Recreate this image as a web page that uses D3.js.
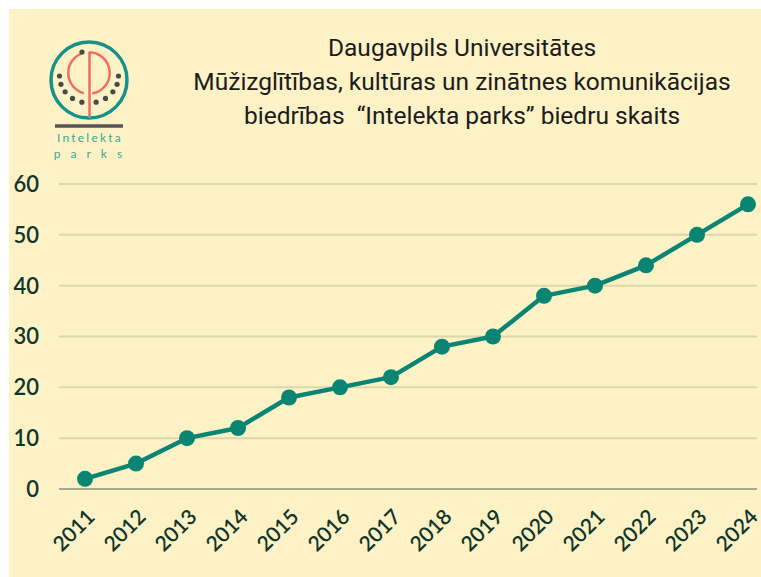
<!DOCTYPE html>
<html>
<head>
<meta charset="utf-8">
<script src="https://cdn.jsdelivr.net/npm/d3@7"></script>
<style>
  body { margin: 0; background: #fff; }
  svg { display: block; }
</style>
</head>
<body>
<svg width="761" height="577"></svg>
<script>
// Data
const years = ["2011", "2012", "2013", "2014", "2015", "2016", "2017", "2018", "2019", "2020", "2021", "2022", "2023", "2024"];
const members = [2, 5, 10, 12, 18, 20, 22, 28, 30, 38, 40, 44, 50, 56];
const yTicks = [0, 10, 20, 30, 40, 50, 60];
const titleLines = [
    "Daugavpils Universitātes",
    "Mūžizglītības, kultūras un zinātnes komunikācijas",
    "biedrības  “Intelekta parks” biedru skaits"
];

const svg = d3.select("svg"),
      width = +svg.attr("width"),
      height = +svg.attr("height");

const lineColor = "#0a8574",
      labelColor = "#10352b";

// background panel
svg.append("rect")
    .attr("x", 9).attr("y", 9)
    .attr("width", width - 9).attr("height", height - 9)
    .attr("fill", "#fdf2c5");

// scales
const x = d3.scalePoint()
    .domain(years)
    .range([85, 748]);

const y = d3.scaleLinear()
    .domain([0, 60])
    .range([489, 184]);

// gridlines
svg.append("g")
    .selectAll("line")
    .data(yTicks)
    .join("line")
    .attr("x1", 59).attr("x2", 757)
    .attr("y1", d => y(d)).attr("y2", d => y(d))
    .attr("stroke", d => d === 0 ? "#a8a98c" : "#dcd6ac")
    .attr("stroke-width", 2);

// y labels
svg.append("g")
    .selectAll("text")
    .data(yTicks)
    .join("text")
    .attr("x", 39)
    .attr("y", d => y(d))
    .attr("dy", "0.36em")
    .attr("text-anchor", "end")
    .attr("font-family", "Lato, sans-serif")
    .attr("font-size", 22)
    .attr("font-weight", 600)
    .attr("fill", labelColor)
    .text(d => d);

// x labels
svg.append("g")
    .selectAll("text")
    .data(years)
    .join("text")
    .attr("transform", d => `translate(${x(d) + 6},${513}) rotate(-45)`)
    .attr("text-anchor", "end")
    .attr("dy", "0.35em")
    .attr("font-family", "Lato, sans-serif")
    .attr("font-size", 21)
    .attr("font-weight", 600)
    .attr("fill", labelColor)
    .text(d => d);

// line
const line = d3.line()
    .x((d, i) => x(years[i]))
    .y(d => y(d));

svg.append("path")
    .datum(members)
    .attr("fill", "none")
    .attr("stroke", lineColor)
    .attr("stroke-width", 4.5)
    .attr("stroke-linejoin", "round")
    .attr("d", line);

svg.append("g")
    .selectAll("circle")
    .data(members)
    .join("circle")
    .attr("cx", (d, i) => x(years[i]))
    .attr("cy", d => y(d))
    .attr("r", 8)
    .attr("fill", lineColor);

// title
svg.append("g")
    .selectAll("text")
    .data(titleLines)
    .join("text")
    .attr("x", 462)
    .attr("y", (d, i) => 56 + i * 34)
    .attr("text-anchor", "middle")
    .attr("font-family", "Roboto, sans-serif")
    .attr("font-size", 24.5)
    .attr("fill", "#1c1c1c")
    .style("white-space", "pre")
    .text(d => d);

// logo
const logo = svg.append("g");
logo.append("circle")
    .attr("cx", 89).attr("cy", 80).attr("r", 38)
    .attr("fill", "none").attr("stroke", "#17918a").attr("stroke-width", 3.5);

const red = "#f26d5f";
const arc = d3.arc();
// C arc
logo.append("path")
    .attr("transform", "translate(89,73)")
    .attr("d", arc({innerRadius: 19.5, outerRadius: 22, startAngle: -Math.PI * 0.92, endAngle: -Math.PI * 0.08}))
    .attr("fill", red);
// P bowl
logo.append("path")
    .attr("transform", "translate(89,73)")
    .attr("d", arc({innerRadius: 19.5, outerRadius: 22, startAngle: 0, endAngle: Math.PI * 0.95}))
    .attr("fill", red);
// P stem
logo.append("line")
    .attr("x1", 89.5).attr("x2", 89.5).attr("y1", 52).attr("y2", 118)
    .attr("stroke", red).attr("stroke-width", 2.5);

// dots
const dotAngles = [0, 18, 36, 56, 76, 104, 124, 144, 162, 180];
logo.append("g")
    .selectAll("circle")
    .data(dotAngles)
    .join("circle")
    .attr("cx", a => 89 + 29.5 * Math.cos(a * Math.PI / 180))
    .attr("cy", a => 76 + 27 * Math.sin(a * Math.PI / 180))
    .attr("r", 2.6)
    .attr("fill", "#4a4a4a");
logo.append("circle")
    .attr("cx", 82).attr("cy", 52).attr("r", 2.6).attr("fill", "#4a4a4a");

logo.append("line")
    .attr("x1", 55).attr("x2", 123).attr("y1", 126).attr("y2", 126)
    .attr("stroke", "#555").attr("stroke-width", 3.5);

logo.append("text")
    .attr("x", 90).attr("y", 142)
    .attr("text-anchor", "middle")
    .attr("font-family", "Lato, sans-serif")
    .attr("font-size", 12)
    .attr("letter-spacing", 2.2)
    .attr("fill", "#3aa89a")
    .text("Intelekta");
logo.append("text")
    .attr("x", 93).attr("y", 158)
    .attr("text-anchor", "middle")
    .attr("font-family", "Lato, sans-serif")
    .attr("font-size", 12)
    .attr("letter-spacing", 10)
    .attr("fill", "#3aa89a")
    .text("parks");
</script>
</body>
</html>
